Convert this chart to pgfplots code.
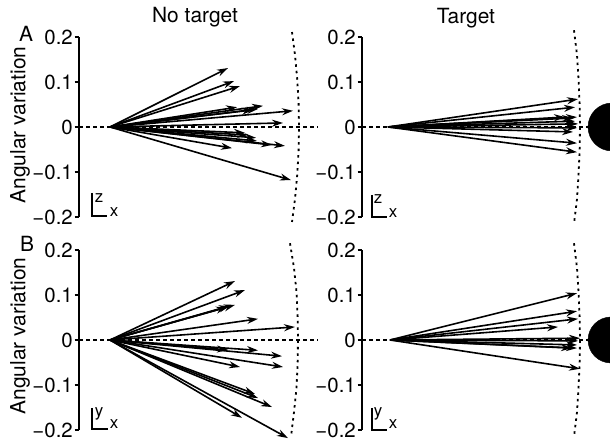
\documentclass[border=0pt]{standalone}
\usepackage{fontspec}
\setmainfont{TeX Gyre Heros}
\usepackage{pgfplots}
\pgfplotsset{compat=1.18}
\usetikzlibrary{arrows.meta}

\pgfplotsset{
  panel/.style={
    x=1bp, y=450bp, ymin=-0.2, ymax=0.2,
    axis y line=left, axis x line=none,
    axis line style={-, line width=1.6bp, black},
    ytick={-0.2,-0.1,0,0.1,0.2},
    yticklabels={−0.2,−0.1,0,0.1,0.2},
    tick align=outside, major tick length=4.5bp,
    every tick/.style={black, line width=1.4bp},
    tick label style={font=\fontsize{20.5}{20.5}\selectfont, black, inner sep=1.5bp},
    clip=false, anchor=south west,
  },
  vec/.style={quiver={u=\thisrow{u},v=\thisrow{v}}, -{Stealth[length=11bp,width=7bp]}, line width=1.6bp, black},
  zeroline/.style={black, line width=1.6bp, dash pattern=on 4bp off 3bp},
  arcline/.style={black, line width=1.8bp, dash pattern=on 2.5bp off 4bp},
}

\begin{document}
\begin{tikzpicture}[x=1bp,y=1bp]
\useasboundingbox (0,0) rectangle (610,441);
\clip (0,0) rectangle (610,441);

% ---------- A, no target ----------
\begin{axis}[panel, at={(79bp,224bp)}, xmin=-31, xmax=200]
\addplot[zeroline] coordinates {(-31,0) (208,0)};
\addplot[arcline] coordinates {(182,0.211) (185,0.16) (187.2,0.107) (188.6,0.053) (189,0) (188.6,-0.053) (187.2,-0.107) (185,-0.16) (182,-0.211)};
\addplot[vec] table {
x y u v
0 0 118 0.131
0 0 124 0.102
0 0 130 0.091
0 0 127 0.044
0 0 153 0.047
0 0 148 0.040
0 0 143 0.038
0 0 183 0.036
0 0 173 0.009
0 0 135 -0.013
0 0 138 -0.018
0 0 146 -0.024
0 0 147 -0.031
0 0 162 -0.040
0 0 175 -0.042
0 0 122 -0.047
0 0 181 -0.118
};
\end{axis}

% ---------- A, target ----------
\begin{axis}[panel, at={(362bp,224bp)}, xmin=-26, xmax=200]
\addplot[zeroline] coordinates {(-26,0) (200,0)};
\addplot[arcline] coordinates {(186,0.215) (189,0.16) (190.5,0.107) (191.6,0.053) (192,0) (191.6,-0.053) (190.5,-0.107) (189,-0.16) (186,-0.215)};
\addplot[only marks, mark=*, mark size=24bp, black] coordinates {(224,0)};
\addplot[vec] table {
x y u v
0 0 190 0.062
0 0 187 0.044
0 0 189 0.022
0 0 185 0.020
0 0 177 0.022
0 0 187 0.013
0 0 190 0.007
0 0 189 -0.002
0 0 185 -0.011
0 0 189 -0.036
0 0 189 -0.056
};
\end{axis}

% ---------- B, no target ----------
\begin{axis}[panel, at={(79bp,11bp)}, xmin=-31, xmax=200]
\addplot[zeroline] coordinates {(-31,0) (208,0)};
\addplot[arcline] coordinates {(180,0.215) (184,0.16) (186.5,0.107) (187.6,0.053) (188,0) (187.6,-0.053) (186.5,-0.107) (184,-0.16) (181,-0.215)};
\addplot[vec] table {
x y u v
0 0 125 0.131
0 0 135 0.111
0 0 125 0.078
0 0 120 0.076
0 0 117 0.073
0 0 148 0.047
0 0 185 0.029
0 0 118 -0.022
0 0 148 -0.023
0 0 172 -0.036
0 0 173 -0.060
0 0 130 -0.060
0 0 145 -0.120
0 0 148 -0.129
0 0 162 -0.149
0 0 132 -0.173
0 0 178 -0.218
};
\end{axis}

% ---------- B, target ----------
\begin{axis}[panel, at={(362bp,11bp)}, xmin=-28, xmax=200]
\addplot[zeroline] coordinates {(-28,0) (198,0)};
\addplot[arcline] coordinates {(184,0.215) (187,0.16) (188.5,0.107) (189.6,0.053) (190,0) (189.6,-0.053) (188.5,-0.107) (187,-0.16) (184,-0.215)};
\addplot[only marks, mark=*, mark size=23bp, black] coordinates {(221,0)};
\addplot[vec] table {
x y u v
0 0 187 0.104
0 0 187 0.064
0 0 188 0.047
0 0 168 0.029
0 0 190 0.004
0 0 188 -0.002
0 0 187 -0.011
0 0 182 -0.018
0 0 187 -0.018
0 0 190 -0.064
};
\end{axis}

% ---------- annotations ----------
\node[font=\fontsize{21}{21}\selectfont] at (195,424) {No target};
\node[font=\fontsize{21}{21}\selectfont] at (466,423) {Target};
\node[font=\fontsize{21}{21}\selectfont] at (26,407) {A};
\node[font=\fontsize{21}{21}\selectfont] at (27,197) {B};
\node[font=\fontsize{21}{21}\selectfont, rotate=90] at (20,316) {Angular variation};
\node[font=\fontsize{21}{21}\selectfont, rotate=90] at (20,105) {Angular variation};

% small axis indicators
\draw[line width=1.3bp] (92,248) -- (92,225) -- (107,225);
\node[font=\fontsize{17}{17}\selectfont, inner sep=0pt] at (99,243) {z};
\node[font=\fontsize{17}{17}\selectfont, inner sep=0pt] at (114,229) {x};
\draw[line width=1.3bp] (372,246) -- (372,224) -- (387,224);
\node[font=\fontsize{17}{17}\selectfont, inner sep=0pt] at (378,242) {z};
\node[font=\fontsize{17}{17}\selectfont, inner sep=0pt] at (393,228) {x};
\draw[line width=1.3bp] (92,33) -- (92,12) -- (108,12);
\node[font=\fontsize{17}{17}\selectfont, inner sep=0pt] at (99,27) {y};
\node[font=\fontsize{17}{17}\selectfont, inner sep=0pt] at (114,17) {x};
\draw[line width=1.3bp] (372,33) -- (372,11) -- (387,11);
\node[font=\fontsize{17}{17}\selectfont, inner sep=0pt] at (378,27) {y};
\node[font=\fontsize{17}{17}\selectfont, inner sep=0pt] at (393,17) {x};
\end{tikzpicture}
\end{document}
